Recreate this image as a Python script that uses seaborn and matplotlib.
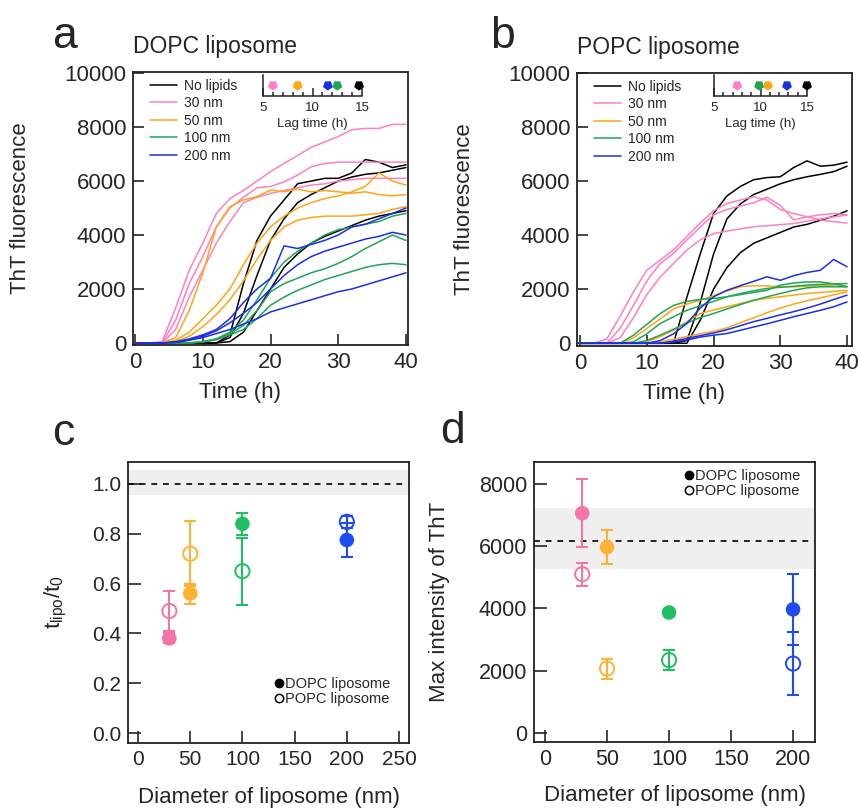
import numpy as np
import pandas as pd
import seaborn as sns
import matplotlib
matplotlib.use("Agg")
import matplotlib.pyplot as plt
from matplotlib.lines import Line2D
from matplotlib.ticker import MultipleLocator

# time grid of the kinetic traces (h)
time_h = list(range(0, 41, 2))
conditions = ["No lipids", "30 nm", "50 nm", "100 nm", "200 nm"]

# panel a: DOPC liposome, three replicate traces per condition
dopc_nolipid = [
  [0, 0, 0, 0, 0, 0, 0, 300, 2200, 3800, 4700, 5300, 5900, 6000, 6100, 6100, 6300, 6800, 6700, 6500, 6600],
  [0, 0, 0, 0, 0, 0, 0, 200, 1100, 2500, 3800, 4600, 5200, 5500, 5750, 6000, 6150, 6250, 6300, 6400, 6500],
  [0, 0, 0, 0, 0, 0, 0, 50, 400, 1200, 2000, 2800, 3300, 3700, 3950, 4150, 4350, 4550, 4700, 4800, 4900],
]
dopc_30 = [
  [0, 0, 50, 1300, 2700, 3700, 4800, 5350, 5650, 6000, 6350, 6650, 6950, 7250, 7450, 7650, 7900, 7950, 7950, 8100, 8100],
  [0, 0, 0, 850, 2200, 3200, 4300, 5000, 5400, 5750, 5800, 5970, 6220, 6530, 6650, 6700, 6700, 6700, 6700, 6700, 6700],
  [0, 0, 0, 500, 1700, 2700, 3700, 4500, 5200, 5400, 5540, 5650, 5750, 5850, 5900, 6000, 6050, 6100, 6100, 6100, 6100],
]
dopc_50 = [
  [0, 0, 0, 200, 1200, 2600, 4300, 5050, 5300, 5420, 5670, 5600, 5700, 5600, 5650, 5600, 5550, 5600, 5500, 5450, 5500],
  [0, 0, 0, 100, 400, 900, 1400, 2000, 2900, 3700, 4300, 4700, 5000, 5200, 5350, 5450, 5600, 5800, 6300, 6000, 5850],
  [0, 0, 0, 50, 250, 600, 1050, 1600, 2300, 3100, 3800, 4300, 4550, 4650, 4700, 4700, 4700, 4750, 4800, 4950, 5050],
]
dopc_100 = [
  [0, 0, 0, 0, 0, 50, 150, 400, 850, 1600, 2400, 3000, 3400, 3700, 4000, 4200, 4300, 4400, 4500, 4700, 4800],
  [0, 0, 0, 0, 0, 50, 150, 350, 650, 1200, 1900, 2200, 2400, 2600, 2750, 2950, 3200, 3500, 3750, 4000, 3800],
  [0, 0, 0, 0, 0, 30, 120, 300, 500, 900, 1400, 1700, 1950, 2150, 2350, 2500, 2650, 2800, 2900, 2950, 2900],
]
dopc_200 = [
  [0, 0, 0, 50, 150, 300, 500, 900, 1500, 2000, 2400, 3600, 3500, 3650, 3800, 4000, 4300, 4400, 4600, 4800, 5000],
  [0, 0, 0, 30, 120, 250, 450, 750, 1100, 1500, 2000, 2500, 2900, 3200, 3400, 3550, 3700, 3850, 3950, 4100, 4000],
  [0, 0, 0, 20, 100, 200, 350, 500, 700, 900, 1150, 1300, 1450, 1600, 1750, 1900, 2000, 2150, 2300, 2450, 2600],
]

# panel b: POPC liposome
popc_nolipid = [
  [0, 0, 0, 0, 0, 0, 0, 0, 1700, 3300, 4800, 5450, 5800, 6050, 6130, 6160, 6500, 6750, 6550, 6590, 6700],
  [0, 0, 0, 0, 0, 0, 0, 0, 100, 1500, 3300, 4600, 5150, 5500, 5700, 5900, 6050, 6160, 6250, 6350, 6550],
  [0, 0, 0, 0, 0, 0, 0, 0, 0, 850, 2000, 2800, 3350, 3700, 3900, 4100, 4300, 4400, 4550, 4700, 4900],
]
popc_30 = [
  [0, 0, 150, 1000, 1900, 2700, 3080, 3450, 3950, 4450, 4900, 5170, 5300, 5420, 5300, 4950, 4800, 4680, 4750, 4800, 4750],
  [0, 0, 0, 550, 1400, 2300, 2950, 3320, 3820, 4300, 4750, 4950, 5080, 5200, 5400, 5100, 4560, 4680, 4560, 4500, 4450],
  [0, 0, 0, 200, 950, 1800, 2450, 2950, 3450, 3820, 4060, 4150, 4230, 4310, 4350, 4390, 4430, 4520, 4600, 4680, 4740],
]
popc_50 = [
  [0, 0, 0, 0, 200, 550, 900, 1270, 1450, 1590, 1760, 1930, 2090, 2130, 2120, 2090, 2090, 2110, 2150, 2120, 2090],
  [0, 0, 0, 0, 0, 50, 250, 480, 800, 1100, 1230, 1350, 1470, 1590, 1660, 1720, 1780, 1840, 1880, 1920, 1960],
  [0, 0, 0, 0, 0, 0, 50, 150, 250, 350, 440, 570, 760, 940, 1130, 1300, 1450, 1570, 1680, 1790, 1900],
]
popc_100 = [
  [0, 0, 0, 0, 300, 700, 1100, 1400, 1550, 1620, 1660, 1720, 1800, 1880, 1960, 2150, 2230, 2270, 2270, 2200, 2100],
  [0, 0, 0, 0, 50, 350, 730, 980, 1220, 1390, 1550, 1720, 1840, 1940, 2030, 2070, 2110, 2150, 2180, 2200, 2210],
  [0, 0, 0, 0, 0, 100, 300, 520, 750, 950, 1100, 1270, 1430, 1590, 1720, 1840, 1960, 2050, 2090, 2090, 2090],
]
popc_200 = [
  [0, 0, 0, 0, 0, 0, 100, 350, 730, 1300, 1720, 1960, 2130, 2290, 2460, 2330, 2500, 2620, 2700, 3100, 2830],
  [0, 0, 0, 0, 0, 0, 0, 80, 180, 280, 380, 500, 650, 800, 920, 1050, 1170, 1300, 1450, 1620, 1780],
  [0, 0, 0, 0, 0, 0, 0, 50, 120, 230, 300, 360, 480, 600, 720, 850, 980, 1100, 1220, 1350, 1530],
]

# lag times in the insets (order of conditions)
dopc_lag = [14.7, 6.0, 8.5, 12.5, 11.55]
popc_lag = [15.0, 7.5, 10.8, 9.85, 12.85]

# panel c / d summaries
diameters = [30, 50, 100, 200]
ratio_dopc = [0.38, 0.56, 0.84, 0.775]
ratio_dopc_err = [0.02, 0.04, 0.044, 0.067]
ratio_popc = [0.49, 0.72, 0.65, 0.848]
ratio_popc_err = [0.08, 0.13, 0.135, 0.025]
ratio_band = [0.957, 1.058]
ratio_ref = 1.0

maxint_dopc = [7060, 5970, 3870, 3970]
maxint_dopc_err = [1100, 550, 100, 1140]
maxint_popc = [5100, 2070, 2340, 2230]
maxint_popc_err = [375, 320, 310, 1010]
maxint_band = [5265, 7217]
maxint_ref = 6166

line_colors = {"No lipids": "#000000", "30 nm": "#ff7fc2", "50 nm": "#ffa414",
               "100 nm": "#1ea653", "200 nm": "#1a30e6"}
point_colors = {30: "#f474aa", 50: "#ffb232", 100: "#1fc061", 200: "#1d4df2"}

sns.set_style("ticks")
plt.rcParams["font.family"] = ["Liberation Sans", "DejaVu Sans"]
plt.rcParams["mathtext.default"] = "regular"
plt.rcParams["axes.linewidth"] = 1.3
plt.rcParams["axes.edgecolor"] = "#222222"


def long_table(traces):
  rows = []
  for cond, reps in traces.items():
    for r, vals in enumerate(reps):
      for t, v in zip(time_h, vals):
        rows.append({"time": t, "ThT": v, "condition": cond, "rep": r})
  return pd.DataFrame(rows)


def kinetics(ax, traces, title, lags, inset_rect, xlim, ylim):
  df = long_table(traces)
  sns.lineplot(data=df, x="time", y="ThT", hue="condition", units="rep",
               estimator=None, hue_order=conditions, palette=line_colors,
               lw=1.1, legend=False, ax=ax)
  ax.set_xlim(*xlim)
  ax.set_ylim(*ylim)
  ax.set_xticks(range(0, 41, 10))
  ax.set_yticks(range(0, 10001, 2000))
  ax.tick_params(direction="in", length=8, width=1.2, labelsize=16, pad=5)
  ax.set_xlabel("Time (h)", fontsize=16)
  ax.set_ylabel("ThT fluorescence", fontsize=16)
  ax.xaxis.set_label_coords(0.39, -0.135)
  ax.yaxis.set_label_coords(-0.37, 0.5)
  ax.text(0, 1.05, title, transform=ax.transAxes, fontsize=16.5, ha="left", va="bottom")
  handles = [Line2D([], [], color=line_colors[c], lw=1.1) for c in conditions]
  ax.legend(handles, conditions, loc="upper left", bbox_to_anchor=(0.06, 0.975),
            frameon=False, fontsize=10, handlelength=2.0, handletextpad=0.5,
            labelspacing=0.25, borderaxespad=0, borderpad=0)

  ins = ax.figure.add_axes(inset_rect)
  lag_df = pd.DataFrame({"lag": lags, "condition": conditions, "y": [0.5] * len(lags)})
  sns.scatterplot(data=lag_df, x="lag", y="y", hue="condition", hue_order=conditions,
                  palette=line_colors, marker=(5, 0, 180), s=55, linewidth=0,
                  legend=False, ax=ins, clip_on=False)
  ins.set_xlim(5, 15)
  ins.set_ylim(0, 1)
  ins.patch.set_alpha(0)
  for side in ["top", "right"]:
    ins.spines[side].set_visible(False)
  for side in ["left", "bottom"]:
    ins.spines[side].set_linewidth(1.1)
  ins.set_yticks([])
  ins.set_ylabel("")
  ins.set_xticks([5, 10, 15])
  ins.xaxis.set_minor_locator(MultipleLocator(1))
  ins.tick_params(axis="x", which="major", direction="in", length=6, width=1.1, labelsize=9.5, pad=4)
  ins.tick_params(axis="x", which="minor", direction="in", length=3, width=1.1)
  ins.set_xlabel("Lag time (h)", fontsize=9.5, labelpad=3)


def summary(ax, dopc, dopc_err, popc, popc_err, band, ref, xlim, ylim,
            xticks, yticks, ylabel, ylabel_x, labelsize, legend_anchor, yfmt):
  ax.axhspan(band[0], band[1], color="#efefef", lw=0, zorder=0)
  ax.axhline(ref, color="black", lw=1.2, ls=(0, (3.5, 3.5)), zorder=1)
  for d, m, e in zip(diameters, dopc, dopc_err):
    ax.errorbar(d, m, yerr=e, fmt="none", ecolor=point_colors[d], elinewidth=1.5,
                capsize=4, capthick=1.5, zorder=2)
  for d, m, e in zip(diameters, popc, popc_err):
    ax.errorbar(d, m, yerr=e, fmt="none", ecolor=point_colors[d], elinewidth=1.5,
                capsize=4, capthick=1.5, zorder=2)
  pts = pd.DataFrame({"diameter": diameters * 2, "value": dopc + popc,
                      "lipid": ["DOPC"] * 4 + ["POPC"] * 4})
  sns.scatterplot(data=pts[pts["lipid"] == "DOPC"], x="diameter", y="value",
                  hue="diameter", palette=point_colors, s=110, linewidth=0,
                  legend=False, ax=ax, zorder=3)
  sns.scatterplot(data=pts[pts["lipid"] == "POPC"], x="diameter", y="value",
                  hue="diameter", palette=point_colors, s=105, linewidth=1.4,
                  legend=False, ax=ax, zorder=3)
  open_pts = ax.collections[-1]
  open_pts.set_edgecolor([point_colors[d] for d in diameters])
  open_pts.set_facecolor("none")
  ax.set_xlim(*xlim)
  ax.set_ylim(*ylim)
  ax.set_xticks(xticks)
  ax.set_yticks(yticks)
  ax.yaxis.set_major_formatter(matplotlib.ticker.FormatStrFormatter(yfmt))
  ax.tick_params(direction="in", length=9, width=1.2, labelsize=labelsize, pad=5)
  ax.set_xlabel("Diameter of liposome (nm)", fontsize=16)
  ax.set_ylabel(ylabel, fontsize=16)
  ax.xaxis.set_label_coords(0.5, -0.155)
  ax.yaxis.set_label_coords(ylabel_x, 0.5)
  handles = [Line2D([], [], ls="none", marker="o", ms=6, color="black"),
             Line2D([], [], ls="none", marker="o", ms=6, mfc="none", mec="black", mew=1.1)]
  ax.legend(handles, ["DOPC liposome", "POPC liposome"], loc="upper left",
            bbox_to_anchor=legend_anchor, frameon=False, fontsize=10.5,
            handlelength=0.6, handletextpad=0.15, labelspacing=0.1,
            borderaxespad=0, borderpad=0)


fig = plt.figure(figsize=(8.61, 8.11), dpi=100)
ax_a = fig.add_axes([0.1545, 0.5746, 0.3194, 0.3366])
ax_b = fig.add_axes([0.6702, 0.5734, 0.3194, 0.3366])
ax_c = fig.add_axes([0.1487, 0.0838, 0.3264, 0.3465])
ax_d = fig.add_axes([0.6202, 0.0851, 0.3264, 0.3453])

kinetics(ax_a, dict(zip(conditions, [dopc_nolipid, dopc_30, dopc_50, dopc_100, dopc_200])),
         "DOPC liposome", dopc_lag, [0.3055, 0.8816, 0.115, 0.0259], (-0.3, 40.3), (-75, 10040))
kinetics(ax_b, dict(zip(conditions, [popc_nolipid, popc_30, popc_50, popc_100, popc_200])),
         "POPC liposome", popc_lag, [0.8293, 0.8816, 0.108, 0.0259], (-0.45, 40.75), (-100, 10000))

summary(ax_c, ratio_dopc, ratio_dopc_err, ratio_popc, ratio_popc_err, ratio_band, ratio_ref,
        (-9.6, 259.6), (-0.04, 1.088), range(0, 251, 50), np.arange(0, 1.01, 0.2),
        r"$t_{lipo}/t_0$", -0.21, 15, (0.52, 0.235), "%.1f")
summary(ax_d, maxint_dopc, maxint_dopc_err, maxint_popc, maxint_popc_err, maxint_band, maxint_ref,
        (-8.9, 217.7), (-289, 8706), range(0, 201, 50), range(0, 8001, 2000),
        "Max intensity of ThT", -0.30, 15.5, (0.535, 0.975), "%d")

for letter, x, y in [("a", 0.060, 0.941), ("b", 0.569, 0.941), ("c", 0.060, 0.451), ("d", 0.511, 0.454)]:
  fig.text(x, y, letter, fontsize=32, va="baseline", ha="left")

fig.savefig("out.png", dpi=100)
